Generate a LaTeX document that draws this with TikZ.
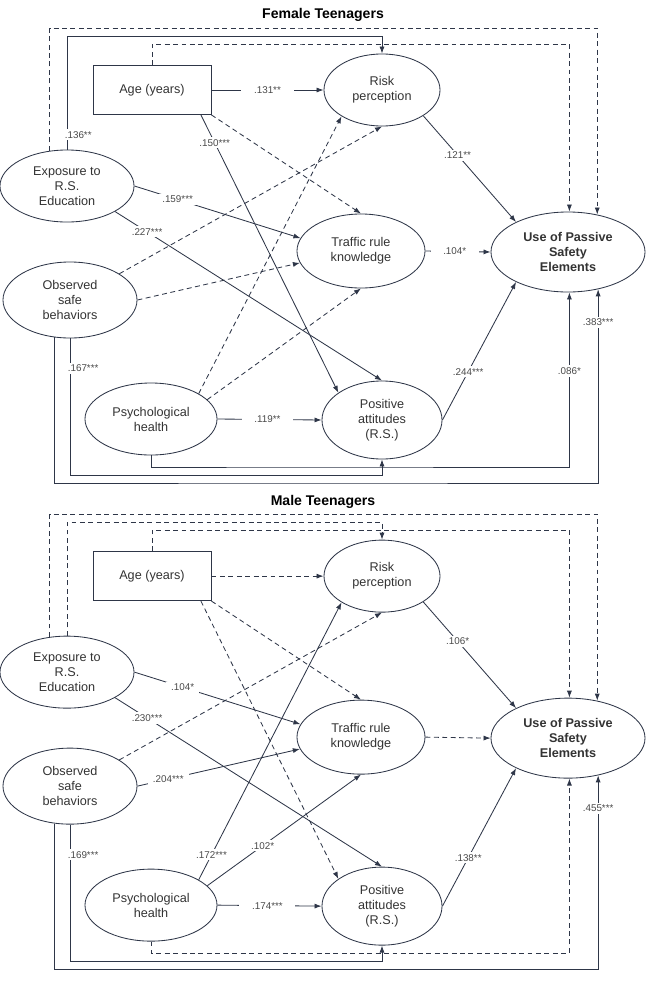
\documentclass[tikz,border=0pt]{standalone}
\usepackage{fontspec}
\setmainfont{Liberation Sans}
\usetikzlibrary{shapes.geometric,arrows.meta}
\definecolor{pathcol}{HTML}{2E3648}
\definecolor{textcol}{HTML}{333333}
\definecolor{coefcol}{HTML}{4A4A4A}
\begin{document}
\begin{tikzpicture}[
 x=0.025cm,y=-0.025cm,
 line width=0.6pt,
 >={Latex[length=5pt,width=3.6pt]},
 align=center,
 font=\fontsize{9}{10.7}\selectfont,
 text=textcol,
 box/.style={draw=pathcol,rectangle,minimum width=2.95cm,minimum height=1.225cm},
 latent/.style={draw=pathcol,ellipse,inner sep=0pt},
 outcome/.style={latent,font=\fontsize{9}{10.7}\selectfont\bfseries,minimum width=3.85cm,minimum height=2cm},
 heading/.style={font=\fontsize{10}{12}\selectfont\bfseries,text=black},
 sig/.style={draw=pathcol,->},
 ns/.style={sig,dash pattern=on 3.5pt off 2.5pt},
 coef/.style={fill=white,inner xsep=3.5pt,inner ysep=1.5pt,font=\fontsize{7}{8}\selectfont,text=coefcol},
 hcoef/.style={coef,inner xsep=9pt}
]
\useasboundingbox (0,0) rectangle (646,981);

% female teenagers
\node (female-title) [heading] at (323,15) {Female Teenagers};
\node (female-age) [box] at (152,90) {Age (years)};
\node (female-risk) [latent,minimum width=2.9cm,minimum height=1.8cm] at (382,90) {Risk\\perception};
\node (female-traffic) [latent,minimum width=3.2cm,minimum height=1.85cm] at (361,251) {Traffic rule\\knowledge};
\node (female-attitude) [latent,minimum width=3cm,minimum height=1.95cm] at (382,420) {Positive\\attitudes\\(R.S.)};
\node (female-exposure) [latent,minimum width=3.35cm,minimum height=1.8cm] at (67,186) {Exposure to\\R.S.\\Education};
\node (female-observed) [latent,minimum width=3.35cm,minimum height=1.9cm] at (70,300) {Observed\\safe\\behaviors};
\node (female-health) [latent,minimum width=3.3cm,minimum height=1.8cm] at (151,419) {Psychological\\health};
\node (female-use) [outcome] at (568,252) {Use of Passive\\Safety\\Elements};
\coordinate (female-bus1) at (300,28);
\coordinate (female-bus2) at (200,36);
\coordinate (female-bus3) at (300,44);
\coordinate (female-bus4) at (300,467);
\coordinate (female-bus5) at (200,475);
\coordinate (female-bus6) at (300,483);

\draw [ns] (female-exposure.116) |- (female-bus1) -| (female-use.52);
\draw [sig] (female-exposure.north) -- node [coef,pos=0.13,anchor=west,xshift=-0.1cm,inner xsep=1pt] {.136**} (female-exposure.north |- female-bus2) -| (female-risk.north);
\draw [ns] (female-age.north) |- (female-bus3) -| (female-use.88);
\draw [sig] (female-age.east) -- node [hcoef] {.131**} (female-risk.west);
\draw [ns] (female-age.south east) -- (female-traffic.north);
\draw [sig] (female-age.-27) -- node [coef,pos=0.1] {.150***} (female-attitude.148);
\draw [sig] (female-exposure.east) -- node [coef,pos=0.26] {.159***} (female-traffic.168);
\draw [sig] (female-exposure.-28) -- node [coef,pos=0.12] {.227***} (female-attitude.north);
\draw [ns] (female-observed.28) -- (female-risk.south);
\draw [ns] (female-observed.east) -- (female-traffic.191);
\draw [sig] (female-observed.south) -- node [coef,pos=0.22,anchor=west,xshift=-0.1cm,inner xsep=1pt] {.167***} (female-observed.south |- female-bus5) -| (female-attitude.south);
\draw [sig] (female-observed.248) |- (female-bus6) -| node [coef,pos=0.915] {.383***} (female-use.-51);
\draw [sig] (female-health.south) |- (female-bus4) -| node [coef,pos=0.775] {.086*} (female-use.-88);
\draw [ns] (female-health.28) -- (female-risk.213);
\draw [ns] (female-health.19) -- (female-traffic.south);
\draw [sig] (female-health.east) -- node [hcoef,pos=0.48] {.119**} (female-attitude.west);
\draw [sig] (female-risk.-32) -- node [coef,pos=0.37] {.121**} (female-use.150);
\draw [sig] (female-traffic.east) -- node [hcoef,pos=0.45] {.104*} (female-use.west);
\draw [sig] (female-attitude.east) -- node [coef,pos=0.35] {.244***} (female-use.210);

% male teenagers
\begin{scope}[yshift=-12.15cm]
\node (male-title) [heading] at (323,16) {Male Teenagers};
\node (male-age) [box] at (152,90) {Age (years)};
\node (male-risk) [latent,minimum width=2.9cm,minimum height=1.8cm] at (382,90) {Risk\\perception};
\node (male-traffic) [latent,minimum width=3.2cm,minimum height=1.85cm] at (361,251) {Traffic rule\\knowledge};
\node (male-attitude) [latent,minimum width=3cm,minimum height=1.95cm] at (382,420) {Positive\\attitudes\\(R.S.)};
\node (male-exposure) [latent,minimum width=3.35cm,minimum height=1.8cm] at (67,186) {Exposure to\\R.S.\\Education};
\node (male-observed) [latent,minimum width=3.35cm,minimum height=1.9cm] at (70,300) {Observed\\safe\\behaviors};
\node (male-health) [latent,minimum width=3.3cm,minimum height=1.8cm] at (151,419) {Psychological\\health};
\node (male-use) [outcome] at (568,252) {Use of Passive\\Safety\\Elements};
\coordinate (male-bus1) at (300,28);
\coordinate (male-bus2) at (200,36);
\coordinate (male-bus3) at (300,44);
\coordinate (male-bus4) at (300,467);
\coordinate (male-bus5) at (200,475);
\coordinate (male-bus6) at (300,483);

\draw [ns] (male-exposure.116) |- (male-bus1) -| (male-use.52);
\draw [ns] (male-exposure.north) |- (male-bus2) -| (male-risk.north);
\draw [ns] (male-age.north) |- (male-bus3) -| (male-use.88);
\draw [ns] (male-age.east) -- (male-risk.west);
\draw [ns] (male-age.south east) -- (male-traffic.north);
\draw [ns] (male-age.-27) -- (male-attitude.148);
\draw [sig] (male-exposure.east) -- node [coef,pos=0.29] {.104*} (male-traffic.168);
\draw [sig] (male-exposure.-28) -- node [coef,pos=0.12] {.230***} (male-attitude.north);
\draw [ns] (male-observed.28) -- (male-risk.south);
\draw [sig] (male-observed.east) -- node [coef,pos=0.19] {.204***} (male-traffic.191);
\draw [sig] (male-observed.south) -- node [coef,pos=0.22,anchor=west,xshift=-0.1cm,inner xsep=1pt] {.169***} (male-observed.south |- male-bus5) -| (male-attitude.south);
\draw [sig] (male-observed.248) |- (male-bus6) -| node [coef,pos=0.915] {.455***} (male-use.-51);
\draw [ns] (male-health.south) |- (male-bus4) -| (male-use.-88);
\draw [sig] (male-health.28) -- node [coef,pos=0.09] {.172***} (male-risk.213);
\draw [sig] (male-health.19) -- node [coef,pos=0.36] {.102*} (male-traffic.south);
\draw [sig] (male-health.east) -- node [hcoef,pos=0.48] {.174***} (male-attitude.west);
\draw [sig] (male-risk.-32) -- node [coef,pos=0.37] {.106*} (male-use.150);
\draw [ns] (male-traffic.east) -- (male-use.west);
\draw [sig] (male-attitude.east) -- node [coef,pos=0.35] {.138**} (male-use.210);
\end{scope}
\end{tikzpicture}
\end{document}
